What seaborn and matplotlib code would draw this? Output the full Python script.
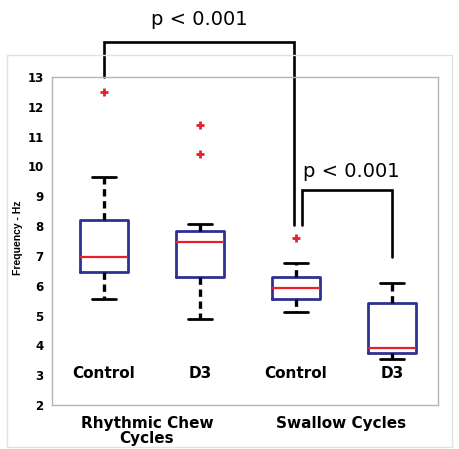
import numpy as np
import pandas as pd
import matplotlib
matplotlib.use("Agg")
import matplotlib.pyplot as plt
from matplotlib.patches import Rectangle
import seaborn as sns

# ---- data ----
conditions = ["Chew Control", "Chew D3", "Swallow Control", "Swallow D3"]
tick_labels = ["Control", "D3", "Control", "D3"]
group_labels = ["Rhythmic Chew\nCycles", "Swallow Cycles"]
chew_control = [5.57, 6.1, 6.47, 6.7, 6.97, 7.5, 8.22, 9.63, 12.5]
chew_d3 = [4.9, 5.5, 6.0, 6.28, 6.8, 7.2, 7.47, 7.6, 7.7, 7.83, 8.07, 10.43, 11.38]
swallow_control = [5.12, 5.4, 5.57, 5.75, 5.91, 6.1, 6.28, 6.77, 7.59]
swallow_d3 = [3.53, 3.65, 3.73, 3.8, 3.9, 4.6, 5.43, 5.8, 6.1]
p_text = ["p < 0.001", "p < 0.001"]

values = [chew_control, chew_d3, swallow_control, swallow_d3]
df = pd.DataFrame({
    "cond": np.repeat(conditions, [len(v) for v in values]),
    "freq": np.concatenate(values),
})

sns.set_style("white")
plt.rcParams["font.family"] = ["DejaVu Sans"]
plt.rcParams["text.color"] = "black"
plt.rcParams["xtick.color"] = "black"
plt.rcParams["ytick.color"] = "black"
plt.rcParams["axes.labelcolor"] = "black"

BLUE = "#2e3192"
RED = "#e8202a"

fig = plt.figure(figsize=(4.59, 4.49), dpi=100)
ax = fig.add_axes([52 / 459, 1 - 405 / 449, (438 - 52) / 459, (405 - 77) / 449])

sns.boxplot(
    data=df, x="cond", y="freq", order=conditions, ax=ax,
    width=0.5, fill=False, color=BLUE, linewidth=2, whis=1.5,
    boxprops=dict(color=BLUE, linewidth=2),
    whiskerprops=dict(color="black", linestyle=(0, (2.2, 1.4)), linewidth=2.4),
    capprops=dict(color="black", linewidth=2),
    medianprops=dict(color=RED, linewidth=1.6),
    flierprops=dict(marker="+", markeredgecolor=RED, markerfacecolor=RED,
                    markersize=5.5, markeredgewidth=2),
)

ax.set_ylim(2, 13)
ax.set_xlim(-0.54, 3.48)
ax.set_yticks(range(2, 14))
ax.set_yticklabels([str(i) for i in range(2, 14)], fontsize=8.5, fontweight="bold")
ax.set_xticks(range(4))
ax.set_xticklabels(tick_labels, fontsize=11, fontweight="bold")
ax.tick_params(axis="x", length=0, pad=-28)
ax.tick_params(axis="y", direction="in", length=4, color="#555555", pad=6)
ax.set_xlabel("")
ax.set_ylabel("Frequency - Hz", family="Liberation Sans", fontweight="bold",
              fontsize=7.5)
ax.yaxis.set_label_coords(-0.076, 0.51)
for sp in ax.spines.values():
    sp.set_color("#b5b5b5")
    sp.set_linewidth(1)

# group labels below axes
ax.text(0.45, -0.035, group_labels[0], transform=ax.get_xaxis_transform(),
        ha="center", va="top", fontsize=11, fontweight="bold", linespacing=0.95)
ax.text(2.47, -0.035, group_labels[1], transform=ax.get_xaxis_transform(),
        ha="center", va="top", fontsize=11, fontweight="bold")

# significance brackets
br1_x = [0, 0, 1.98, 1.98]
br1_y = [13, 14.18, 14.18, 8.03]
br2_x = [2.06, 2.06, 3.0, 3.0]
br2_y = [8.03, 9.21, 9.21, 6.97]
ax.plot(br1_x, br1_y, color="black", lw=1.9, clip_on=False, solid_joinstyle="miter")
ax.plot(br2_x, br2_y, color="black", lw=1.9, clip_on=False, solid_joinstyle="miter")
ax.text(0.99, 14.92, p_text[0], ha="center", va="center", fontsize=14)
ax.text(2.58, 9.82, p_text[1], ha="center", va="center", fontsize=14)

# outer light frame
fig.add_artist(Rectangle((7 / 459, 1 - 447 / 449), (452 - 7) / 459, (447 - 55) / 449,
                         transform=fig.transFigure, fill=False,
                         edgecolor="#e2e2e2", lw=1))

fig.savefig("out.png", dpi=100)
